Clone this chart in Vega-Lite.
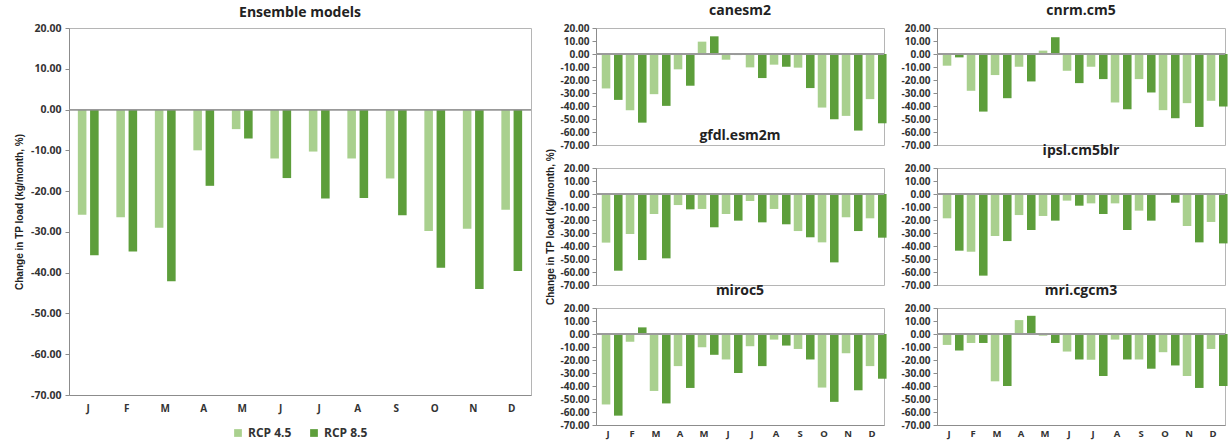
{
  "$schema": "https://vega.github.io/schema/vega-lite/v6.json",
  "background": "white",
  "padding": {"left": 14, "top": 3, "right": 2, "bottom": 0},
  "config": {
    "font": "Open Sans",
    "view": {"stroke": "#b5b5b5", "strokeWidth": 1},
    "axis": {"labelFont": "Open Sans", "labelFontWeight": "bold", "labelColor": "#333333", "domainColor": "#8c8c8c", "tickColor": "#8c8c8c", "grid": false, "titleFont": "Liberation Sans", "titleFontWeight": "bold", "titleFontSize": 10, "titleColor": "#222222", "labelOverlap": false},
    "title": {"font": "Open Sans", "fontWeight": "bold", "fontSize": 14, "color": "#222222", "anchor": "middle"},
    "legend": {"labelFont": "Open Sans", "labelFontWeight": "bold", "labelFontSize": 12, "labelColor": "#333333", "layout": {"bottom": {"anchor": "middle"}}}
  },
  "datasets": {
    "tp": [
      {"model": "Ensemble models", "month": "Jan", "scenario": "RCP 4.5", "change": -25.8},
      {"model": "Ensemble models", "month": "Jan", "scenario": "RCP 8.5", "change": -35.7},
      {"model": "Ensemble models", "month": "Feb", "scenario": "RCP 4.5", "change": -26.4},
      {"model": "Ensemble models", "month": "Feb", "scenario": "RCP 8.5", "change": -34.8},
      {"model": "Ensemble models", "month": "Mar", "scenario": "RCP 4.5", "change": -29.0},
      {"model": "Ensemble models", "month": "Mar", "scenario": "RCP 8.5", "change": -42.1},
      {"model": "Ensemble models", "month": "Apr", "scenario": "RCP 4.5", "change": -10.0},
      {"model": "Ensemble models", "month": "Apr", "scenario": "RCP 8.5", "change": -18.7},
      {"model": "Ensemble models", "month": "May", "scenario": "RCP 4.5", "change": -4.8},
      {"model": "Ensemble models", "month": "May", "scenario": "RCP 8.5", "change": -7.1},
      {"model": "Ensemble models", "month": "Jun", "scenario": "RCP 4.5", "change": -12.0},
      {"model": "Ensemble models", "month": "Jun", "scenario": "RCP 8.5", "change": -16.8},
      {"model": "Ensemble models", "month": "Jul", "scenario": "RCP 4.5", "change": -10.3},
      {"model": "Ensemble models", "month": "Jul", "scenario": "RCP 8.5", "change": -21.8},
      {"model": "Ensemble models", "month": "Aug", "scenario": "RCP 4.5", "change": -12.0},
      {"model": "Ensemble models", "month": "Aug", "scenario": "RCP 8.5", "change": -21.7},
      {"model": "Ensemble models", "month": "Sep", "scenario": "RCP 4.5", "change": -16.9},
      {"model": "Ensemble models", "month": "Sep", "scenario": "RCP 8.5", "change": -25.9},
      {"model": "Ensemble models", "month": "Oct", "scenario": "RCP 4.5", "change": -29.8},
      {"model": "Ensemble models", "month": "Oct", "scenario": "RCP 8.5", "change": -38.8},
      {"model": "Ensemble models", "month": "Nov", "scenario": "RCP 4.5", "change": -29.2},
      {"model": "Ensemble models", "month": "Nov", "scenario": "RCP 8.5", "change": -44.0},
      {"model": "Ensemble models", "month": "Dec", "scenario": "RCP 4.5", "change": -24.6},
      {"model": "Ensemble models", "month": "Dec", "scenario": "RCP 8.5", "change": -39.6},

      {"model": "canesm2", "month": "Jan", "scenario": "RCP 4.5", "change": -26.5},
      {"model": "canesm2", "month": "Jan", "scenario": "RCP 8.5", "change": -35.3},
      {"model": "canesm2", "month": "Feb", "scenario": "RCP 4.5", "change": -43.2},
      {"model": "canesm2", "month": "Feb", "scenario": "RCP 8.5", "change": -52.8},
      {"model": "canesm2", "month": "Mar", "scenario": "RCP 4.5", "change": -30.9},
      {"model": "canesm2", "month": "Mar", "scenario": "RCP 8.5", "change": -39.9},
      {"model": "canesm2", "month": "Apr", "scenario": "RCP 4.5", "change": -11.8},
      {"model": "canesm2", "month": "Apr", "scenario": "RCP 8.5", "change": -24.4},
      {"model": "canesm2", "month": "May", "scenario": "RCP 4.5", "change": 9.5},
      {"model": "canesm2", "month": "May", "scenario": "RCP 8.5", "change": 13.6},
      {"model": "canesm2", "month": "Jun", "scenario": "RCP 4.5", "change": -4.4},
      {"model": "canesm2", "month": "Jun", "scenario": "RCP 8.5", "change": -0.8},
      {"model": "canesm2", "month": "Jul", "scenario": "RCP 4.5", "change": -10.3},
      {"model": "canesm2", "month": "Jul", "scenario": "RCP 8.5", "change": -18.5},
      {"model": "canesm2", "month": "Aug", "scenario": "RCP 4.5", "change": -8.2},
      {"model": "canesm2", "month": "Aug", "scenario": "RCP 8.5", "change": -9.8},
      {"model": "canesm2", "month": "Sep", "scenario": "RCP 4.5", "change": -10.5},
      {"model": "canesm2", "month": "Sep", "scenario": "RCP 8.5", "change": -26.2},
      {"model": "canesm2", "month": "Oct", "scenario": "RCP 4.5", "change": -41.2},
      {"model": "canesm2", "month": "Oct", "scenario": "RCP 8.5", "change": -50.2},
      {"model": "canesm2", "month": "Nov", "scenario": "RCP 4.5", "change": -47.6},
      {"model": "canesm2", "month": "Nov", "scenario": "RCP 8.5", "change": -58.9},
      {"model": "canesm2", "month": "Dec", "scenario": "RCP 4.5", "change": -34.7},
      {"model": "canesm2", "month": "Dec", "scenario": "RCP 8.5", "change": -53.3},

      {"model": "cnrm.cm5", "month": "Jan", "scenario": "RCP 4.5", "change": -9.0},
      {"model": "cnrm.cm5", "month": "Jan", "scenario": "RCP 8.5", "change": -2.6},
      {"model": "cnrm.cm5", "month": "Feb", "scenario": "RCP 4.5", "change": -28.3},
      {"model": "cnrm.cm5", "month": "Feb", "scenario": "RCP 8.5", "change": -44.3},
      {"model": "cnrm.cm5", "month": "Mar", "scenario": "RCP 4.5", "change": -16.2},
      {"model": "cnrm.cm5", "month": "Mar", "scenario": "RCP 8.5", "change": -34.0},
      {"model": "cnrm.cm5", "month": "Apr", "scenario": "RCP 4.5", "change": -9.8},
      {"model": "cnrm.cm5", "month": "Apr", "scenario": "RCP 8.5", "change": -21.1},
      {"model": "cnrm.cm5", "month": "May", "scenario": "RCP 4.5", "change": 2.6},
      {"model": "cnrm.cm5", "month": "May", "scenario": "RCP 8.5", "change": 12.9},
      {"model": "cnrm.cm5", "month": "Jun", "scenario": "RCP 4.5", "change": -12.9},
      {"model": "cnrm.cm5", "month": "Jun", "scenario": "RCP 8.5", "change": -22.4},
      {"model": "cnrm.cm5", "month": "Jul", "scenario": "RCP 4.5", "change": -9.8},
      {"model": "cnrm.cm5", "month": "Jul", "scenario": "RCP 8.5", "change": -19.3},
      {"model": "cnrm.cm5", "month": "Aug", "scenario": "RCP 4.5", "change": -37.3},
      {"model": "cnrm.cm5", "month": "Aug", "scenario": "RCP 8.5", "change": -42.5},
      {"model": "cnrm.cm5", "month": "Sep", "scenario": "RCP 4.5", "change": -19.3},
      {"model": "cnrm.cm5", "month": "Sep", "scenario": "RCP 8.5", "change": -29.6},
      {"model": "cnrm.cm5", "month": "Oct", "scenario": "RCP 4.5", "change": -43.2},
      {"model": "cnrm.cm5", "month": "Oct", "scenario": "RCP 8.5", "change": -49.4},
      {"model": "cnrm.cm5", "month": "Nov", "scenario": "RCP 4.5", "change": -37.8},
      {"model": "cnrm.cm5", "month": "Nov", "scenario": "RCP 8.5", "change": -56.1},
      {"model": "cnrm.cm5", "month": "Dec", "scenario": "RCP 4.5", "change": -36.0},
      {"model": "cnrm.cm5", "month": "Dec", "scenario": "RCP 8.5", "change": -40.4},

      {"model": "gfdl.esm2m", "month": "Jan", "scenario": "RCP 4.5", "change": -37.4},
      {"model": "gfdl.esm2m", "month": "Jan", "scenario": "RCP 8.5", "change": -59.0},
      {"model": "gfdl.esm2m", "month": "Feb", "scenario": "RCP 4.5", "change": -30.8},
      {"model": "gfdl.esm2m", "month": "Feb", "scenario": "RCP 8.5", "change": -50.8},
      {"model": "gfdl.esm2m", "month": "Mar", "scenario": "RCP 4.5", "change": -15.4},
      {"model": "gfdl.esm2m", "month": "Mar", "scenario": "RCP 8.5", "change": -49.5},
      {"model": "gfdl.esm2m", "month": "Apr", "scenario": "RCP 4.5", "change": -8.5},
      {"model": "gfdl.esm2m", "month": "Apr", "scenario": "RCP 8.5", "change": -11.8},
      {"model": "gfdl.esm2m", "month": "May", "scenario": "RCP 4.5", "change": -11.5},
      {"model": "gfdl.esm2m", "month": "May", "scenario": "RCP 8.5", "change": -25.6},
      {"model": "gfdl.esm2m", "month": "Jun", "scenario": "RCP 4.5", "change": -15.4},
      {"model": "gfdl.esm2m", "month": "Jun", "scenario": "RCP 8.5", "change": -20.5},
      {"model": "gfdl.esm2m", "month": "Jul", "scenario": "RCP 4.5", "change": -5.4},
      {"model": "gfdl.esm2m", "month": "Jul", "scenario": "RCP 8.5", "change": -21.8},
      {"model": "gfdl.esm2m", "month": "Aug", "scenario": "RCP 4.5", "change": -11.5},
      {"model": "gfdl.esm2m", "month": "Aug", "scenario": "RCP 8.5", "change": -23.3},
      {"model": "gfdl.esm2m", "month": "Sep", "scenario": "RCP 4.5", "change": -28.5},
      {"model": "gfdl.esm2m", "month": "Sep", "scenario": "RCP 8.5", "change": -33.3},
      {"model": "gfdl.esm2m", "month": "Oct", "scenario": "RCP 4.5", "change": -37.2},
      {"model": "gfdl.esm2m", "month": "Oct", "scenario": "RCP 8.5", "change": -52.6},
      {"model": "gfdl.esm2m", "month": "Nov", "scenario": "RCP 4.5", "change": -17.9},
      {"model": "gfdl.esm2m", "month": "Nov", "scenario": "RCP 8.5", "change": -28.5},
      {"model": "gfdl.esm2m", "month": "Dec", "scenario": "RCP 4.5", "change": -18.7},
      {"model": "gfdl.esm2m", "month": "Dec", "scenario": "RCP 8.5", "change": -33.6},

      {"model": "ipsl.cm5blr", "month": "Jan", "scenario": "RCP 4.5", "change": -18.7},
      {"model": "ipsl.cm5blr", "month": "Jan", "scenario": "RCP 8.5", "change": -43.6},
      {"model": "ipsl.cm5blr", "month": "Feb", "scenario": "RCP 4.5", "change": -44.4},
      {"model": "ipsl.cm5blr", "month": "Feb", "scenario": "RCP 8.5", "change": -62.8},
      {"model": "ipsl.cm5blr", "month": "Mar", "scenario": "RCP 4.5", "change": -32.3},
      {"model": "ipsl.cm5blr", "month": "Mar", "scenario": "RCP 8.5", "change": -36.2},
      {"model": "ipsl.cm5blr", "month": "Apr", "scenario": "RCP 4.5", "change": -16.2},
      {"model": "ipsl.cm5blr", "month": "Apr", "scenario": "RCP 8.5", "change": -27.7},
      {"model": "ipsl.cm5blr", "month": "May", "scenario": "RCP 4.5", "change": -16.9},
      {"model": "ipsl.cm5blr", "month": "May", "scenario": "RCP 8.5", "change": -20.5},
      {"model": "ipsl.cm5blr", "month": "Jun", "scenario": "RCP 4.5", "change": -5.1},
      {"model": "ipsl.cm5blr", "month": "Jun", "scenario": "RCP 8.5", "change": -9.0},
      {"model": "ipsl.cm5blr", "month": "Jul", "scenario": "RCP 4.5", "change": -7.2},
      {"model": "ipsl.cm5blr", "month": "Jul", "scenario": "RCP 8.5", "change": -15.4},
      {"model": "ipsl.cm5blr", "month": "Aug", "scenario": "RCP 4.5", "change": -7.2},
      {"model": "ipsl.cm5blr", "month": "Aug", "scenario": "RCP 8.5", "change": -27.7},
      {"model": "ipsl.cm5blr", "month": "Sep", "scenario": "RCP 4.5", "change": -12.8},
      {"model": "ipsl.cm5blr", "month": "Sep", "scenario": "RCP 8.5", "change": -20.5},
      {"model": "ipsl.cm5blr", "month": "Oct", "scenario": "RCP 4.5", "change": -0.8},
      {"model": "ipsl.cm5blr", "month": "Oct", "scenario": "RCP 8.5", "change": -6.7},
      {"model": "ipsl.cm5blr", "month": "Nov", "scenario": "RCP 4.5", "change": -24.6},
      {"model": "ipsl.cm5blr", "month": "Nov", "scenario": "RCP 8.5", "change": -37.2},
      {"model": "ipsl.cm5blr", "month": "Dec", "scenario": "RCP 4.5", "change": -21.5},
      {"model": "ipsl.cm5blr", "month": "Dec", "scenario": "RCP 8.5", "change": -38.0},

      {"model": "miroc5", "month": "Jan", "scenario": "RCP 4.5", "change": -54.2},
      {"model": "miroc5", "month": "Jan", "scenario": "RCP 8.5", "change": -62.8},
      {"model": "miroc5", "month": "Feb", "scenario": "RCP 4.5", "change": -5.9},
      {"model": "miroc5", "month": "Feb", "scenario": "RCP 8.5", "change": 5.1},
      {"model": "miroc5", "month": "Mar", "scenario": "RCP 4.5", "change": -43.8},
      {"model": "miroc5", "month": "Mar", "scenario": "RCP 8.5", "change": -53.4},
      {"model": "miroc5", "month": "Apr", "scenario": "RCP 4.5", "change": -24.7},
      {"model": "miroc5", "month": "Apr", "scenario": "RCP 8.5", "change": -41.5},
      {"model": "miroc5", "month": "May", "scenario": "RCP 4.5", "change": -10.2},
      {"model": "miroc5", "month": "May", "scenario": "RCP 8.5", "change": -16.0},
      {"model": "miroc5", "month": "Jun", "scenario": "RCP 4.5", "change": -19.6},
      {"model": "miroc5", "month": "Jun", "scenario": "RCP 8.5", "change": -30.0},
      {"model": "miroc5", "month": "Jul", "scenario": "RCP 4.5", "change": -9.4},
      {"model": "miroc5", "month": "Jul", "scenario": "RCP 8.5", "change": -24.7},
      {"model": "miroc5", "month": "Aug", "scenario": "RCP 4.5", "change": -4.3},
      {"model": "miroc5", "month": "Aug", "scenario": "RCP 8.5", "change": -8.9},
      {"model": "miroc5", "month": "Sep", "scenario": "RCP 4.5", "change": -11.5},
      {"model": "miroc5", "month": "Sep", "scenario": "RCP 8.5", "change": -19.6},
      {"model": "miroc5", "month": "Oct", "scenario": "RCP 4.5", "change": -41.2},
      {"model": "miroc5", "month": "Oct", "scenario": "RCP 8.5", "change": -52.2},
      {"model": "miroc5", "month": "Nov", "scenario": "RCP 4.5", "change": -14.8},
      {"model": "miroc5", "month": "Nov", "scenario": "RCP 8.5", "change": -43.3},
      {"model": "miroc5", "month": "Dec", "scenario": "RCP 4.5", "change": -24.7},
      {"model": "miroc5", "month": "Dec", "scenario": "RCP 8.5", "change": -34.4},

      {"model": "mri.cgcm3", "month": "Jan", "scenario": "RCP 4.5", "change": -8.4},
      {"model": "mri.cgcm3", "month": "Jan", "scenario": "RCP 8.5", "change": -12.7},
      {"model": "mri.cgcm3", "month": "Feb", "scenario": "RCP 4.5", "change": -6.9},
      {"model": "mri.cgcm3", "month": "Feb", "scenario": "RCP 8.5", "change": -6.9},
      {"model": "mri.cgcm3", "month": "Mar", "scenario": "RCP 4.5", "change": -36.4},
      {"model": "mri.cgcm3", "month": "Mar", "scenario": "RCP 8.5", "change": -40.0},
      {"model": "mri.cgcm3", "month": "Apr", "scenario": "RCP 4.5", "change": 10.7},
      {"model": "mri.cgcm3", "month": "Apr", "scenario": "RCP 8.5", "change": 14.0},
      {"model": "mri.cgcm3", "month": "May", "scenario": "RCP 4.5", "change": -1.3},
      {"model": "mri.cgcm3", "month": "May", "scenario": "RCP 8.5", "change": -6.9},
      {"model": "mri.cgcm3", "month": "Jun", "scenario": "RCP 4.5", "change": -13.5},
      {"model": "mri.cgcm3", "month": "Jun", "scenario": "RCP 8.5", "change": -19.6},
      {"model": "mri.cgcm3", "month": "Jul", "scenario": "RCP 4.5", "change": -19.8},
      {"model": "mri.cgcm3", "month": "Jul", "scenario": "RCP 8.5", "change": -32.3},
      {"model": "mri.cgcm3", "month": "Aug", "scenario": "RCP 4.5", "change": -4.3},
      {"model": "mri.cgcm3", "month": "Aug", "scenario": "RCP 8.5", "change": -19.6},
      {"model": "mri.cgcm3", "month": "Sep", "scenario": "RCP 4.5", "change": -19.6},
      {"model": "mri.cgcm3", "month": "Sep", "scenario": "RCP 8.5", "change": -26.7},
      {"model": "mri.cgcm3", "month": "Oct", "scenario": "RCP 4.5", "change": -14.0},
      {"model": "mri.cgcm3", "month": "Oct", "scenario": "RCP 8.5", "change": -24.2},
      {"model": "mri.cgcm3", "month": "Nov", "scenario": "RCP 4.5", "change": -32.3},
      {"model": "mri.cgcm3", "month": "Nov", "scenario": "RCP 8.5", "change": -41.5},
      {"model": "mri.cgcm3", "month": "Dec", "scenario": "RCP 4.5", "change": -11.5},
      {"model": "mri.cgcm3", "month": "Dec", "scenario": "RCP 8.5", "change": -40.0}
    ]
  },
  "data": {"name": "tp"},
  "resolve": {"scale": {"color": "independent"}},
  "spacing": 12,
  "hconcat": [
    {
      "width": 462,
      "height": 367,
      "title": {"text": "Ensemble models", "fontSize": 14, "offset": 3},
      "transform": [{"filter": "datum.model === 'Ensemble models'"}],
      "layer": [
        {
          "mark": {"type": "bar"},
          "encoding": {
            "x": {"field": "month", "type": "nominal", "sort": ["Jan","Feb","Mar","Apr","May","Jun","Jul","Aug","Sep","Oct","Nov","Dec"], "scale": {"paddingInner": 0.46, "paddingOuter": 0.23}, "axis": {"title": null, "labelExpr": "substring(datum.label, 0, 1)", "labelAngle": 0, "ticks": false, "labelPadding": 8, "labelFontSize": 10}},
            "y": {"field": "change", "type": "quantitative", "scale": {"domain": [-70, 20], "nice": false, "zero": false}, "axis": {"values": [-70,-60,-50,-40,-30,-20,-10,0,10,20], "tickCount": 10, "labelOverlap": false, "labelExpr": "replace(format(datum.value, '.2f'), '\u2212', '-')", "labelFontSize": 10.5, "tickSize": 4, "labelPadding": 4, "title": "Change in TP load (kg/month, %)", "titlePadding": 6}},
            "xOffset": {"field": "scenario", "type": "nominal", "scale": {"paddingInner": 0.3, "paddingOuter": 0}},
            "color": {"field": "scenario", "type": "nominal", "scale": {"domain": ["RCP 4.5", "RCP 8.5"], "range": ["#a9d08e", "#5d9e3b"]}, "legend": {"orient": "bottom", "direction": "horizontal", "title": null, "symbolType": "square", "symbolSize": 60, "symbolStrokeWidth": 0, "columnPadding": 16, "offset": 14}}
          }
        },
        {"mark": {"type": "rule", "color": "#9a9a9a", "strokeWidth": 1}, "encoding": {"y": {"datum": 0}}}
      ]
    },
    {
      "vconcat": [
        {
          "width": 288, "height": 117,
          "title": {"text": "canesm2", "fontSize": 14, "offset": 5},
          "transform": [{"filter": "datum.model === 'canesm2'"}],
          "layer": [
            {"mark": {"type": "bar"}, "encoding": {
              "x": {"field": "month", "type": "nominal", "sort": ["Jan","Feb","Mar","Apr","May","Jun","Jul","Aug","Sep","Oct","Nov","Dec"], "scale": {"paddingInner": 0.48, "paddingOuter": 0.24}, "axis": null},
              "y": {"field": "change", "type": "quantitative", "scale": {"domain": [-70, 20], "nice": false, "zero": false}, "axis": {"values": [-70,-60,-50,-40,-30,-20,-10,0,10,20], "tickCount": 10, "labelOverlap": false, "labelExpr": "replace(format(datum.value, '.2f'), '\u2212', '-')", "labelFontSize": 10, "tickSize": 4, "labelPadding": 3, "title": null}},
              "xOffset": {"field": "scenario", "type": "nominal", "scale": {"paddingInner": 0.3, "paddingOuter": 0}},
              "color": {"field": "scenario", "type": "nominal", "scale": {"domain": ["RCP 4.5", "RCP 8.5"], "range": ["#a9d08e", "#5d9e3b"]}, "legend": null}
            }},
            {"mark": {"type": "rule", "color": "#9a9a9a", "strokeWidth": 1}, "encoding": {"y": {"datum": 0}}}
          ]
        },
        {
          "width": 288, "height": 117,
          "title": {"text": "gfdl.esm2m", "fontSize": 14, "offset": 5},
          "transform": [{"filter": "datum.model === 'gfdl.esm2m'"}],
          "layer": [
            {"mark": {"type": "bar"}, "encoding": {
              "x": {"field": "month", "type": "nominal", "sort": ["Jan","Feb","Mar","Apr","May","Jun","Jul","Aug","Sep","Oct","Nov","Dec"], "scale": {"paddingInner": 0.48, "paddingOuter": 0.24}, "axis": null},
              "y": {"field": "change", "type": "quantitative", "scale": {"domain": [-70, 20], "nice": false, "zero": false}, "axis": {"values": [-70,-60,-50,-40,-30,-20,-10,0,10,20], "tickCount": 10, "labelOverlap": false, "labelExpr": "replace(format(datum.value, '.2f'), '\u2212', '-')", "labelFontSize": 10, "tickSize": 4, "labelPadding": 3, "title": "Change in TP load (kg/month, %)", "titlePadding": 5}},
              "xOffset": {"field": "scenario", "type": "nominal", "scale": {"paddingInner": 0.3, "paddingOuter": 0}},
              "color": {"field": "scenario", "type": "nominal", "scale": {"domain": ["RCP 4.5", "RCP 8.5"], "range": ["#a9d08e", "#5d9e3b"]}, "legend": null}
            }},
            {"mark": {"type": "rule", "color": "#9a9a9a", "strokeWidth": 1}, "encoding": {"y": {"datum": 0}}}
          ]
        },
        {
          "width": 288, "height": 117,
          "title": {"text": "miroc5", "fontSize": 14, "offset": 5},
          "transform": [{"filter": "datum.model === 'miroc5'"}],
          "layer": [
            {"mark": {"type": "bar"}, "encoding": {
              "x": {"field": "month", "type": "nominal", "sort": ["Jan","Feb","Mar","Apr","May","Jun","Jul","Aug","Sep","Oct","Nov","Dec"], "scale": {"paddingInner": 0.48, "paddingOuter": 0.24}, "axis": {"title": null, "labelExpr": "substring(datum.label, 0, 1)", "labelAngle": 0, "ticks": false, "labelPadding": 3, "labelFontSize": 9.5}},
              "y": {"field": "change", "type": "quantitative", "scale": {"domain": [-70, 20], "nice": false, "zero": false}, "axis": {"values": [-70,-60,-50,-40,-30,-20,-10,0,10,20], "tickCount": 10, "labelOverlap": false, "labelExpr": "replace(format(datum.value, '.2f'), '\u2212', '-')", "labelFontSize": 10, "tickSize": 4, "labelPadding": 3, "title": null}},
              "xOffset": {"field": "scenario", "type": "nominal", "scale": {"paddingInner": 0.3, "paddingOuter": 0}},
              "color": {"field": "scenario", "type": "nominal", "scale": {"domain": ["RCP 4.5", "RCP 8.5"], "range": ["#a9d08e", "#5d9e3b"]}, "legend": null}
            }},
            {"mark": {"type": "rule", "color": "#9a9a9a", "strokeWidth": 1}, "encoding": {"y": {"datum": 0}}}
          ]
        }
      ],
      "bounds": "flush",
      "spacing": 23
    },
    {
      "vconcat": [
        {
          "width": 288, "height": 117,
          "title": {"text": "cnrm.cm5", "fontSize": 14, "offset": 5},
          "transform": [{"filter": "datum.model === 'cnrm.cm5'"}],
          "layer": [
            {"mark": {"type": "bar"}, "encoding": {
              "x": {"field": "month", "type": "nominal", "sort": ["Jan","Feb","Mar","Apr","May","Jun","Jul","Aug","Sep","Oct","Nov","Dec"], "scale": {"paddingInner": 0.48, "paddingOuter": 0.24}, "axis": null},
              "y": {"field": "change", "type": "quantitative", "scale": {"domain": [-70, 20], "nice": false, "zero": false}, "axis": {"values": [-70,-60,-50,-40,-30,-20,-10,0,10,20], "tickCount": 10, "labelOverlap": false, "labelExpr": "replace(format(datum.value, '.2f'), '\u2212', '-')", "labelFontSize": 10, "tickSize": 4, "labelPadding": 3, "title": null}},
              "xOffset": {"field": "scenario", "type": "nominal", "scale": {"paddingInner": 0.3, "paddingOuter": 0}},
              "color": {"field": "scenario", "type": "nominal", "scale": {"domain": ["RCP 4.5", "RCP 8.5"], "range": ["#a9d08e", "#5d9e3b"]}, "legend": null}
            }},
            {"mark": {"type": "rule", "color": "#9a9a9a", "strokeWidth": 1}, "encoding": {"y": {"datum": 0}}}
          ]
        },
        {
          "width": 288, "height": 117,
          "title": {"text": "ipsl.cm5blr", "fontSize": 14, "offset": 5},
          "transform": [{"filter": "datum.model === 'ipsl.cm5blr'"}],
          "layer": [
            {"mark": {"type": "bar"}, "encoding": {
              "x": {"field": "month", "type": "nominal", "sort": ["Jan","Feb","Mar","Apr","May","Jun","Jul","Aug","Sep","Oct","Nov","Dec"], "scale": {"paddingInner": 0.48, "paddingOuter": 0.24}, "axis": null},
              "y": {"field": "change", "type": "quantitative", "scale": {"domain": [-70, 20], "nice": false, "zero": false}, "axis": {"values": [-70,-60,-50,-40,-30,-20,-10,0,10,20], "tickCount": 10, "labelOverlap": false, "labelExpr": "replace(format(datum.value, '.2f'), '\u2212', '-')", "labelFontSize": 10, "tickSize": 4, "labelPadding": 3, "title": null}},
              "xOffset": {"field": "scenario", "type": "nominal", "scale": {"paddingInner": 0.3, "paddingOuter": 0}},
              "color": {"field": "scenario", "type": "nominal", "scale": {"domain": ["RCP 4.5", "RCP 8.5"], "range": ["#a9d08e", "#5d9e3b"]}, "legend": null}
            }},
            {"mark": {"type": "rule", "color": "#9a9a9a", "strokeWidth": 1}, "encoding": {"y": {"datum": 0}}}
          ]
        },
        {
          "width": 288, "height": 117,
          "title": {"text": "mri.cgcm3", "fontSize": 14, "offset": 5},
          "transform": [{"filter": "datum.model === 'mri.cgcm3'"}],
          "layer": [
            {"mark": {"type": "bar"}, "encoding": {
              "x": {"field": "month", "type": "nominal", "sort": ["Jan","Feb","Mar","Apr","May","Jun","Jul","Aug","Sep","Oct","Nov","Dec"], "scale": {"paddingInner": 0.48, "paddingOuter": 0.24}, "axis": {"title": null, "labelExpr": "substring(datum.label, 0, 1)", "labelAngle": 0, "ticks": false, "labelPadding": 3, "labelFontSize": 9.5}},
              "y": {"field": "change", "type": "quantitative", "scale": {"domain": [-70, 20], "nice": false, "zero": false}, "axis": {"values": [-70,-60,-50,-40,-30,-20,-10,0,10,20], "tickCount": 10, "labelOverlap": false, "labelExpr": "replace(format(datum.value, '.2f'), '\u2212', '-')", "labelFontSize": 10, "tickSize": 4, "labelPadding": 3, "title": null}},
              "xOffset": {"field": "scenario", "type": "nominal", "scale": {"paddingInner": 0.3, "paddingOuter": 0}},
              "color": {"field": "scenario", "type": "nominal", "scale": {"domain": ["RCP 4.5", "RCP 8.5"], "range": ["#a9d08e", "#5d9e3b"]}, "legend": null}
            }},
            {"mark": {"type": "rule", "color": "#9a9a9a", "strokeWidth": 1}, "encoding": {"y": {"datum": 0}}}
          ]
        }
      ],
      "bounds": "flush",
      "spacing": 23
    }
  ]
}
